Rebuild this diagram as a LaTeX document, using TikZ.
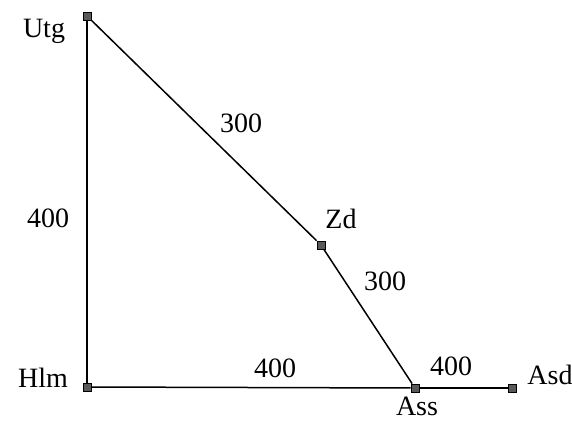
\documentclass[tikz,border=0pt]{standalone}
\usepackage{fontspec}
\setmainfont{Liberation Serif}
\begin{document}
\begin{tikzpicture}[x=1pt,y=-1pt,
  pt/.style={draw=black,fill=black!65,minimum size=8pt,inner sep=0pt,line width=0.8pt},
  lbl/.style={font=\fontsize{28}{30}\selectfont,anchor=base,inner sep=0pt},
  edge/.style={line width=1.5pt}]
\useasboundingbox (0,0) rectangle (572,421);
\node[pt] (utg) at (87,16) {};
\node[pt] (hlm) at (87,387) {};
\node[pt] (zd) at (321,245) {};
\node[pt] (ass) at (415,388) {};
\node[pt] (asd) at (512,388) {};
\draw[edge] (utg) -- (hlm);
\draw[edge] (hlm) -- (ass);
\draw[edge] (ass) -- (asd);
\draw[edge] (utg) -- (zd);
\draw[edge] (zd) -- (ass);
\node[lbl] (tutg) at (44,37) {Utg};
\node[lbl] (thlm) at (43,387) {Hlm};
\node[lbl] (tzd) at (341,228) {Zd};
\node[lbl] (tass) at (417,415) {Ass};
\node[lbl] (tasd) at (550,384) {Asd};
\node[lbl] (l1) at (48,227) {400};
\node[lbl] (l2) at (241,132) {300};
\node[lbl] (l3) at (385,290) {300};
\node[lbl] (l4) at (275,377) {400};
\node[lbl] (l5) at (451,375) {400};
\end{tikzpicture}
\end{document}
